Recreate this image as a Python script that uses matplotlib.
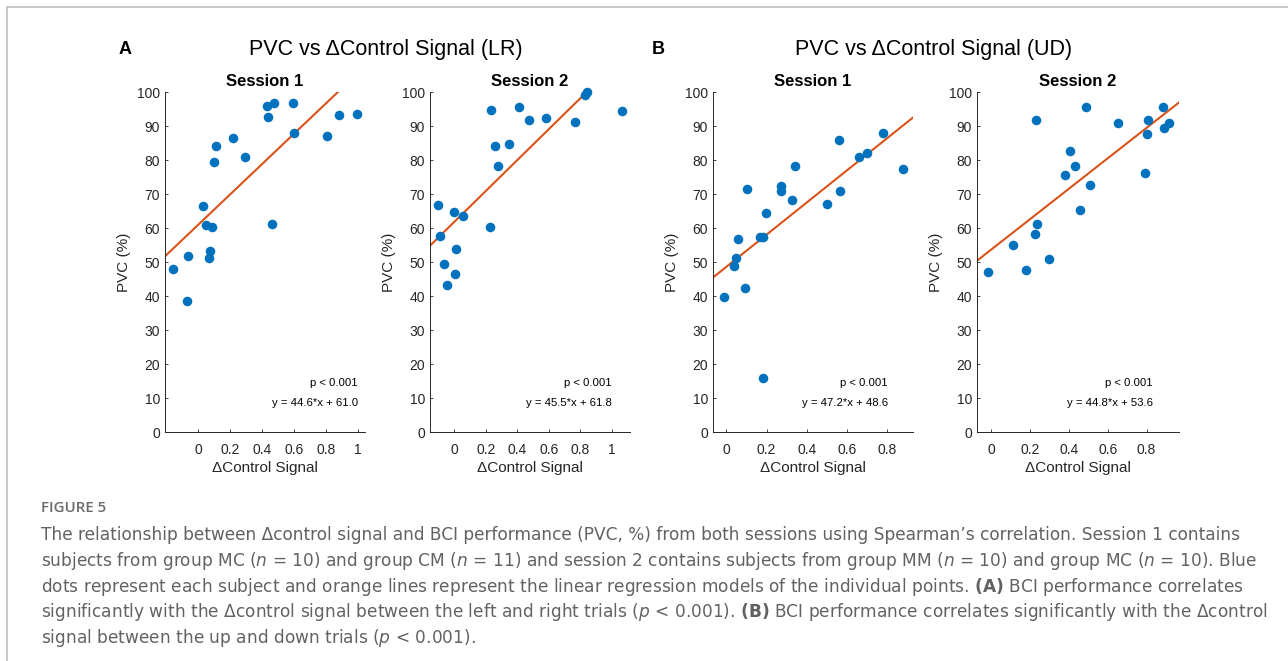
import matplotlib
matplotlib.use("Agg")
import matplotlib.pyplot as plt
from matplotlib.ticker import FuncFormatter
import numpy as np

# ---------------- data ----------------
# Panel A (LR), Session 1
a1_x = [-0.158, -0.067, -0.074, 0.032, 0.046, 0.088, 0.074, 0.065, 0.101, 0.109, 0.215,
        0.295, 0.429, 0.434, 0.474, 0.463, 0.594, 0.598, 0.806, 0.882, 0.993]
a1_y = [47.8, 51.8, 38.5, 66.4, 61.0, 60.3, 53.1, 51.1, 79.4, 84.1, 86.4,
        80.9, 95.9, 92.6, 96.7, 61.1, 96.9, 88.0, 87.2, 93.3, 93.6]
# Panel A (LR), Session 2
a2_x = [-0.106, -0.091, -0.063, -0.047, -0.002, 0.008, 0.004, 0.053, 0.224, 0.230,
        0.260, 0.275, 0.345, 0.408, 0.474, 0.579, 0.767, 0.831, 0.844, 1.063]
a2_y = [66.7, 57.7, 49.5, 43.3, 64.8, 53.8, 46.5, 63.6, 60.3, 94.8,
        84.2, 78.1, 84.8, 95.7, 91.7, 92.3, 91.1, 99.0, 100.0, 94.4]
# Panel B (UD), Session 1
b1_x = [-0.013, 0.040, 0.050, 0.060, 0.095, 0.102, 0.167, 0.183, 0.183, 0.198, 0.272,
        0.273, 0.328, 0.343, 0.500, 0.563, 0.567, 0.663, 0.702, 0.778, 0.880]
b1_y = [39.7, 48.8, 51.3, 56.8, 42.5, 71.4, 57.3, 57.4, 15.9, 64.3, 72.4,
        71.0, 68.1, 78.2, 67.1, 85.8, 70.9, 81.0, 82.1, 87.8, 77.5]
# Panel B (UD), Session 2
b2_x = [-0.015, 0.112, 0.182, 0.225, 0.235, 0.230, 0.297, 0.381, 0.405, 0.433,
        0.458, 0.489, 0.508, 0.651, 0.790, 0.808, 0.803, 0.887, 0.891, 0.917]
b2_y = [47.2, 55.1, 47.6, 58.2, 61.3, 91.9, 50.8, 75.6, 82.7, 78.1,
        65.2, 95.5, 72.7, 90.9, 76.1, 91.7, 87.7, 95.6, 89.4, 90.9]

slopes = [44.6, 45.5, 47.2, 44.8]
intercepts = [61.0, 61.8, 48.6, 53.6]
p_texts = ["p < 0.001"] * 4
eq_texts = ["y = 44.6*x + 61.0", "y = 45.5*x + 61.8", "y = 47.2*x + 48.6", "y = 44.8*x + 53.6"]
session_titles = ["Session 1", "Session 2", "Session 1", "Session 2"]
group_titles = ["PVC vs \u0394Control Signal (LR)", "PVC vs \u0394Control Signal (UD)"]
panel_letters = ["A", "B"]
xtick_max = [1.0, 1.0, 0.8, 0.8]

caption_head = "FIGURE 5"
caption_lines = [
    "The relationship between \u0394control signal and BCI performance (PVC, %) from both sessions using Spearman\u2019s correlation. Session 1 contains",
    "subjects from group MC ($n$ = 10) and group CM ($n$ = 11) and session 2 contains subjects from group MM ($n$ = 10) and group MC ($n$ = 10). Blue",
    "dots represent each subject and orange lines represent the linear regression models of the individual points. $\\mathbf{(A)}$ BCI performance correlates",
    "significantly with the \u0394control signal between the left and right trials ($p$ < 0.001). $\\mathbf{(B)}$ BCI performance correlates significantly with the \u0394control",
    "signal between the up and down trials ($p$ < 0.001).",
]

# ---------------- style ----------------
W, H = 1288, 661
BLUE = "#0072BD"
ORANGE = "#D95319"
TXT = "#262626"
plt.rcParams["font.family"] = ["Liberation Sans", "DejaVu Sans"]
plt.rcParams["mathtext.fontset"] = "dejavusans"

fig = plt.figure(figsize=(W / 100, H / 100), dpi=100)
fig.patch.set_facecolor("white")

# light gray page border (top and left)
fig.add_artist(plt.Line2D([7 / W, 1], [1 - 7 / H, 1 - 7 / H], color="#c4c4c4", lw=1.3, transform=fig.transFigure))
fig.add_artist(plt.Line2D([7 / W, 7 / W], [0, 1 - 7 / H], color="#c4c4c4", lw=1.3, transform=fig.transFigure))

# axes boxes in pixel coordinates (left, right, top, bottom)
boxes = [(165, 365, 92, 432), (430, 630, 92, 432), (713, 913, 92, 432), (977, 1179, 92, 432)]
xlims = [(-0.209, 1.044), (-0.154, 1.114), (-0.067, 0.93), (-0.072, 0.967)]
xs = [a1_x, a2_x, b1_x, b2_x]
ys = [a1_y, a2_y, b1_y, b2_y]
ann_x = [0.965, 0.91, 0.875, 0.871]

fmt = FuncFormatter(lambda v, p: ("%g" % round(v, 3)))

for i in range(4):
    l, r, t, b = boxes[i]
    ax = fig.add_axes([l / W, 1 - b / H, (r - l) / W, (b - t) / H])
    ax.set_xlim(*xlims[i])
    ax.set_ylim(0, 100)
    ax.plot(xs[i], ys[i], "o", color=BLUE, markersize=6.9, markeredgewidth=0, clip_on=False, zorder=3)
    lx = np.array(xlims[i])
    ax.plot(lx, slopes[i] * lx + intercepts[i], color=ORANGE, lw=1.5, zorder=2)
    for s in ["top", "right"]:
        ax.spines[s].set_visible(False)
    for s in ["left", "bottom"]:
        ax.spines[s].set_color(TXT)
        ax.spines[s].set_linewidth(0.7)
    ax.set_yticks(np.arange(0, 101, 10))
    ax.set_xticks(np.arange(0, xtick_max[i] + 0.001, 0.2))
    ax.xaxis.set_major_formatter(fmt)
    ax.tick_params(axis="both", direction="in", length=2.5, width=0.6, colors=TXT, labelsize=10)
    ax.tick_params(axis="x", pad=8.0)
    ax.tick_params(axis="y", pad=3.5)
    ax.set_xlabel("\u0394Control Signal", fontsize=11, color=TXT, labelpad=2.5)
    ax.set_ylabel("PVC (%)", fontsize=11, color=TXT, labelpad=4.5)
    ax.set_title(session_titles[i], fontsize=12, fontweight="bold", color="black", pad=4.6)
    ax.text(ann_x[i], 0.144, p_texts[i], transform=ax.transAxes, ha="right", va="center", fontsize=8.2, color="black")
    ax.text(ann_x[i], 0.085, eq_texts[i], transform=ax.transAxes, ha="right", va="center", fontsize=8.2, color="black")

# group titles and panel letters
fig.text(386 / W, 1 - 49 / H, group_titles[0], ha="center", va="center", fontsize=15.5, color="black")
fig.text(934 / W, 1 - 49 / H, group_titles[1], ha="center", va="center", fontsize=15.5, color="black")
fig.text(125 / W, 1 - 50 / H, panel_letters[0], ha="center", va="center", fontsize=13, fontweight="bold", color="black")
fig.text(658 / W, 1 - 50 / H, panel_letters[1], ha="center", va="center", fontsize=13, fontweight="bold", color="black")

# caption
fig.text(41 / W, 1 - 512.3 / H, caption_head, ha="left", va="baseline", fontsize=10.8,
         family=["Open Sans", "DejaVu Sans"], fontweight="semibold", color="#6a6a6a")
baselines = [540, 565.8, 591.6, 617.4, 643.2]
cap_texts = []
base_size = 11.5
for line, yb in zip(caption_lines, baselines):
    cap_texts.append(fig.text(41 / W, 1 - yb / H, line, ha="left", va="baseline", fontsize=base_size,
                              family=["DejaVu Sans"], color="#626262"))

# fit caption width to the reference line length (line 4 spans ~1232 px)
fig.canvas.draw()
renderer = fig.canvas.get_renderer()
w4 = cap_texts[3].get_window_extent(renderer).width
scale = 1232.0 / w4
for t in cap_texts:
    t.set_fontsize(base_size * scale)

fig.savefig("out.png", dpi=100, facecolor="white")
